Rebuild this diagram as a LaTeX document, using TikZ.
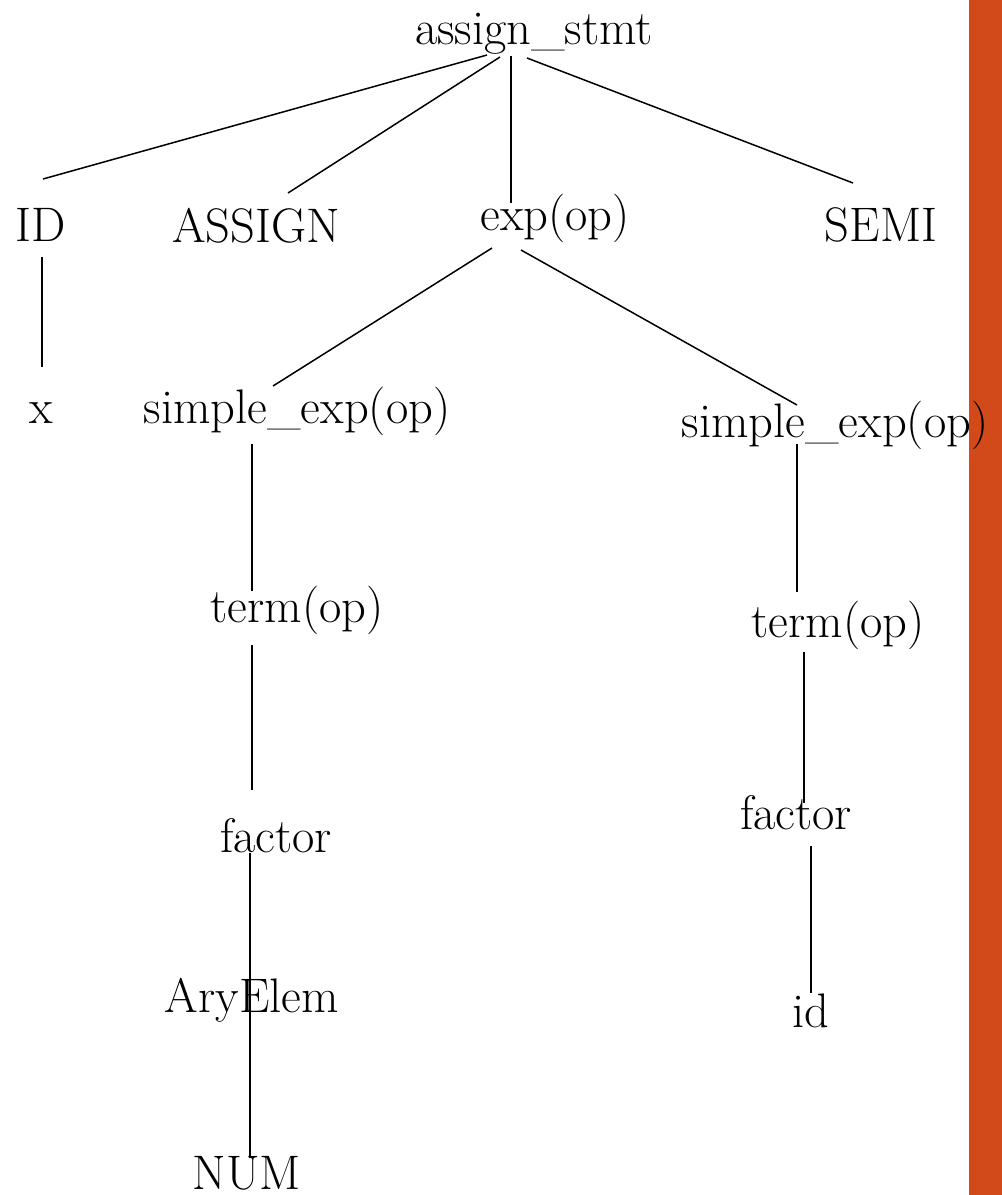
\documentclass[tikz,border=0pt]{standalone}
\begin{document}
\begin{tikzpicture}[x=1pt,y=1pt,
  lbl/.style={anchor=base,inner sep=0pt,outer sep=0pt,text=drawColor,font=\fontsize{48.5}{58}\selectfont},
  edge/.style={draw=drawColor,line width=1.5pt,line join=round}]
\definecolor{fillColor}{RGB}{255,255,255}
\path[use as bounding box,fill=fillColor] (0,0) rectangle (1002,-1195);
\definecolor{barColor}{RGB}{210,74,26}

\path[fill=barColor] (969,0) rectangle (1002,-1195);
\definecolor{drawColor}{RGB}{0,0,0}

% level 0 and 1
\node[lbl] (stmt) at (534,-44) {assign\_stmt};
\node[lbl] (idtok) at ( 41,-241) {ID};
\node[lbl] (assign) at (256,-242) {ASSIGN};
\node[lbl] (expop) at (555,-230) {exp(op)};
\node[lbl] (semi) at (881,-241) {SEMI};

% level 2
\node[lbl] (xvar) at ( 41,-423) {x};
\node[lbl] (simpL) at (297,-423) {simple\_exp(op)};
\node[lbl] (simpR) at (835,-437) {simple\_exp(op)};

% level 3 and below
\node[lbl] (termL) at (297,-622) {term(op)};
\node[lbl] (termR) at (838,-637) {term(op)};
\node[lbl] (factL) at (276,-852) {factor};
\node[lbl] (factR) at (796,-829) {factor};
\node[lbl] (ary) at (252,-1012) {AryElem};
\node[lbl] (idv) at (811,-1027) {id};
\node[lbl] (num) at (247,-1189) {NUM};

\path[edge] ([shift={(-47,-11)}]stmt.base) -- ([shift={(2,62)}]idtok.base);

\path[edge] ([shift={(-34,-13)}]stmt.base) -- ([shift={(32,49)}]assign.base);

\path[edge] ([shift={(-23,-12)}]stmt.base) -- ([shift={(-44,27)}]expop.base);

\path[edge] ([shift={(-7,-14)}]stmt.base) -- ([shift={(-28,58)}]semi.base);

\path[edge] ([shift={(1,-16)}]idtok.base) -- ([shift={(1,56)}]xvar.base);

\path[edge] ([shift={(-63,-18)}]expop.base) -- ([shift={(-24,37)}]simpL.base);

\path[edge] ([shift={(-34,-20)}]expop.base) -- ([shift={(-38,32)}]simpR.base);

\path[edge] ([shift={(-45,-21)}]simpL.base) -- ([shift={(-45,31)}]termL.base);

\path[edge] ([shift={(-45,-23)}]termL.base) -- ([shift={(-24,62)}]factL.base);

\path[edge] ([shift={(-26,-1)}]factL.base) -- ([shift={(-2,0)}]ary.base) --
	([shift={(3,31)}]num.base);

\path[edge] ([shift={(-38,-7)}]simpR.base) -- ([shift={(-41,45)}]termR.base);

\path[edge] ([shift={(-34,-15)}]termR.base) -- ([shift={(8,26)}]factR.base);

\path[edge] ([shift={(15,-17)}]factR.base) -- ([shift={(0,34)}]idv.base);
\end{tikzpicture}
\end{document}
